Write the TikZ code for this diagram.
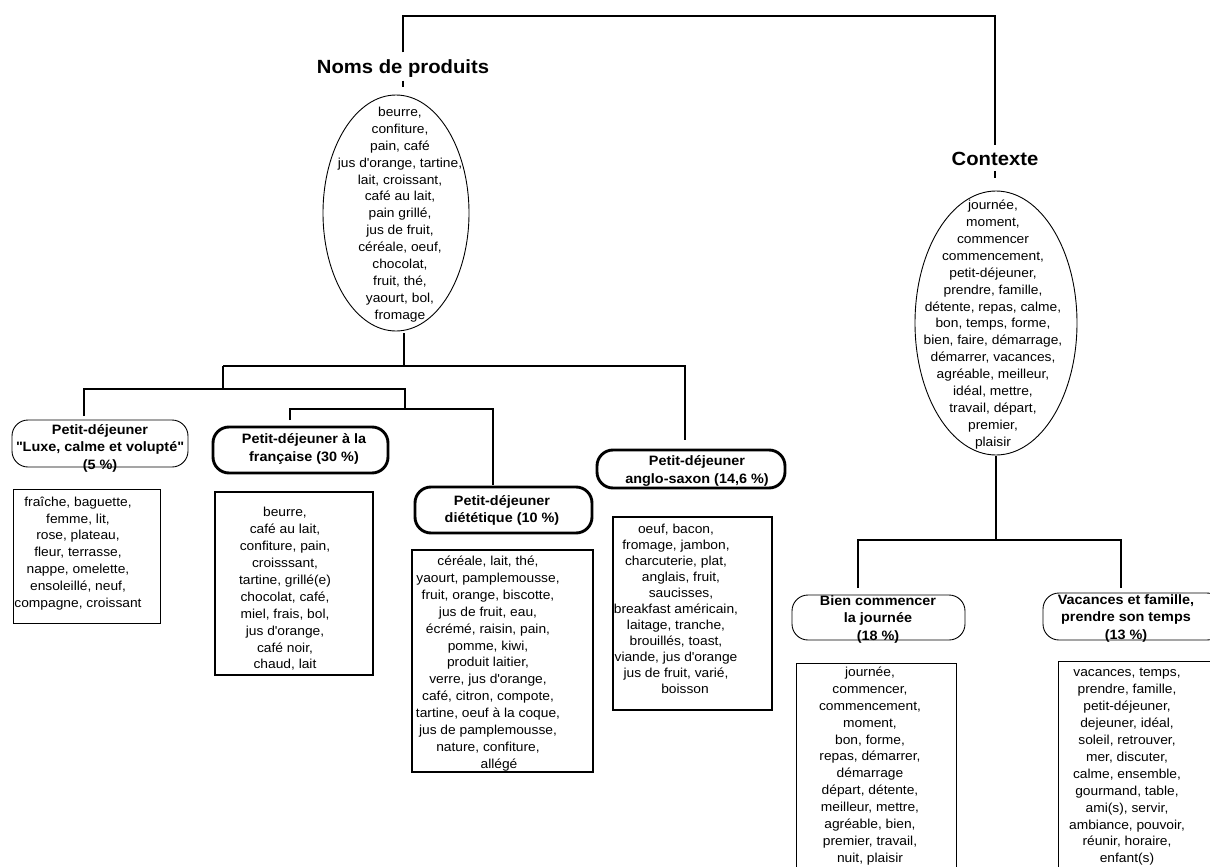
\documentclass[tikz,border=0pt]{standalone}
\usepackage{fontspec}
\setmainfont{Liberation Sans}[FakeStretch=1.06]
\usetikzlibrary{shapes.geometric}
\tikzset{
  conn/.style={line width=1.2pt},
  thinbox/.style={draw, line width=0.9pt, inner sep=0pt},
  thickbox/.style={draw, line width=2.9pt, inner sep=0pt},
  pill/.style={rounded corners=16pt},
  ell/.style={draw, ellipse, line width=0.9pt, inner sep=0pt},
  lst/.style={align=center, inner sep=0pt, font=\fontsize{13}{16.9}\selectfont},
  lstb/.style={align=center, inner sep=0pt, font=\fontsize{13}{16}\selectfont},
  ttl/.style={align=center, inner sep=0pt, font=\bfseries\fontsize{13.6}{17.5}\selectfont},
  titre/.style={inner sep=0pt, font=\bfseries\fontsize{19.1}{22}\selectfont},
}
\newcommand{\apo}{\textquotesingle}
\newcommand{\dq}{\textquotedbl}
% shift a centred line: left by #1 / right by #1
\newcommand{\tol}[2]{#2\hspace*{#1}}
\newcommand{\tor}[2]{\hspace*{#1}#2}
\begin{document}
\begin{tikzpicture}[x=1pt,y=-1pt]
\useasboundingbox (0,0) rectangle (1210,867);
\clip (0,0) rectangle (1210,867);

% ---------- Noms de produits ----------
\node[titre] (nomsT) at (403,68.5) {Noms de produits};
\node[ell, minimum width=146pt, minimum height=236pt] (nomsE) at (396,213) {};
\node[lst] (nomsL) at (400,214.5) {beurre,\\confiture,\\pain, café\\jus d\apo orange, tartine,\\lait, croissant,\\café au lait,\\pain grillé,\\jus de fruit,\\céréale, oeuf,\\chocolat,\\fruit, thé,\\yaourt, bol,\\fromage};

% ---------- Contexte ----------
\node[titre] (ctxT) at (995,159) {Contexte};
\node[ell, minimum width=162pt, minimum height=264pt] (ctxE) at (996,323) {};
\node[lst] (ctxL) at (993,324.5) {journée,\\moment,\\commencer\\commencement,\\petit-déjeuner,\\prendre, famille,\\détente, repas, calme,\\bon, temps, forme,\\bien, faire, démarrage,\\démarrer, vacances,\\agréable, meilleur,\\idéal, mettre,\\travail, départ,\\premier,\\plaisir};

% ---------- Luxe ----------
\node[thinbox, pill, minimum width=176pt, minimum height=47pt] (luxeT) at (100,443.5) {};
\node[ttl] (luxeTt) at (100,448) {Petit-déjeuner\\\dq Luxe, calme et volupté\dq\\(5~\%)};
\node[thinbox, minimum width=147pt, minimum height=134pt] (luxeL) at (86.5,556) {};
\node[lst] (luxeLt) at (78,553.5) {fraîche, baguette,\\femme, lit,\\rose, plateau,\\fleur, terrasse,\\nappe, omelette,\\ensoleillé, neuf,\\compagne, croissant};

% ---------- Française ----------
\node[thickbox, pill, minimum width=175pt, minimum height=46pt] (frT) at (300.5,450) {};
\node[ttl] (frTt) at (304,449) {Petit-déjeuner à la\\française (30~\%)};
\node[thickbox, minimum width=158pt, minimum height=183pt] (frL) at (294,583.5) {};
\node[lst] (frLt) at (285,589) {beurre,\\café au lait,\\confiture, pain,\\croisssant,\\\tol{24pt}{tartine, grillé(e)}\\chocolat, café,\\miel, frais, bol,\\jus d\apo orange,\\café noir,\\chaud, lait};

% ---------- Diététique ----------
\node[thickbox, pill, minimum width=177pt, minimum height=46pt] (diT) at (503.5,510) {};
\node[ttl] (diTt) at (502,510.5) {Petit-déjeuner\\diététique (10~\%)};
\node[thickbox, minimum width=181pt, minimum height=222pt] (diL) at (502.5,661) {};
\node[lst] (diLt) at (488,663.5) {céréale, lait, thé,\\yaourt, pamplemousse,\\fruit, orange, biscotte,\\jus de fruit, eau,\\écrémé, raisin, pain,\\pomme, kiwi,\\produit laitier,\\verre, jus d\apo orange,\\café, citron, compote,\\tartine, oeuf à la coque,\\jus de pamplemousse,\\nature, confiture,\\\tor{22pt}{allégé}};

% ---------- Anglo-saxon ----------
\node[thickbox, pill, minimum width=188pt, minimum height=38pt] (anT) at (691,469) {};
\node[ttl] (anTt) at (697,471) {Petit-déjeuner\\anglo-saxon (14,6~\%)};
\node[thickbox, minimum width=159pt, minimum height=193pt] (anL) at (692.5,613.5) {};
\node[lstb] (anLt) at (676,609) {oeuf, bacon,\\fromage, jambon,\\charcuterie, plat,\\\tor{10pt}{anglais, fruit,}\\\tor{10pt}{saucisses,}\\breakfast américain,\\laitage, tranche,\\\tol{18pt}{brouillés, toast,}\\viande, jus d\apo orange\\\tol{18pt}{jus de fruit, varié,}\\\tor{18pt}{boisson}};

% ---------- Bien commencer ----------
\node[thinbox, pill, minimum width=173pt, minimum height=45pt] (biT) at (878.5,617.5) {};
\node[ttl] (biTt) at (878,619) {Bien commencer\\la journée\\(18~\%)};
\node[thinbox, minimum width=160pt, minimum height=220pt] (biL) at (876,773) {};
\node[lst] (biLt) at (870,766) {journée,\\commencer,\\commencement,\\moment,\\\tol{34pt}{bon, forme,}\\repas, démarrer,\\démarrage\\départ, détente,\\meilleur, mettre,\\agréable, bien,\\premier, travail,\\nuit, plaisir};

% ---------- Vacances ----------
\node[thinbox, pill, minimum width=180pt, minimum height=47pt] (vaT) at (1133,616.5) {};
\node[ttl] (vaTt) at (1126,618) {Vacances et famille,\\prendre son temps\\(13~\%)};
\node[thinbox, minimum width=158pt, minimum height=220pt] (vaL) at (1137,771) {};
\node[lst] (vaLt) at (1127,767) {vacances, temps,\\prendre, famille,\\petit-déjeuner,\\dejeuner, idéal,\\soleil, retrouver,\\mer, discuter,\\\tol{26pt}{calme, ensemble,}\\gourmand, table,\\ami(s), servir,\\ambiance, pouvoir,\\réunir, horaire,\\enfant(s)};

% ---------- connectors ----------
\coordinate (topbar) at (700,16);
\draw[conn, shorten <=7pt, shorten >=7pt] (nomsT.north) |- (topbar) -| (ctxT.north);
\draw[conn, shorten <=3pt, shorten >=8pt] (nomsT.south) -- (nomsT.south |- nomsE.north);
\draw[conn, shorten <=5pt, shorten >=13pt] (ctxT.south) -- (ctxT.south |- ctxE.north);

\coordinate (n0) at (404,333);
\coordinate (b1L) at (223,366);
\coordinate (b1R) at (685,366);
\coordinate (b2L) at (84,389);
\coordinate (b2R) at (405,389);
\coordinate (b3L) at (290,409);
\coordinate (b3R) at (493,409);
\coordinate (luxeIn) at (84,416);
\coordinate (frIn) at (290,420);
\coordinate (diIn) at (493,485);
\coordinate (anIn) at (685,440);
\draw[conn] (n0) -- (n0 |- b1L);
\draw[conn] (b1L) -- (b1R) -- (anIn);
\draw[conn] (b1L) -- (b1L |- b2L);
\draw[conn] (luxeIn) -- (b2L) -- (b2R) -- (b2R |- b3L);
\draw[conn] (frIn) -- (b3L) -- (b3R) -- (diIn);

\coordinate (c0) at (996,456);
\coordinate (k1L) at (858,540);
\coordinate (k1R) at (1121,540);
\coordinate (biIn) at (858,588);
\coordinate (vaIn) at (1121,588);
\draw[conn] (c0) -- (c0 |- k1L);
\draw[conn] (biIn) -- (k1L) -- (k1R) -- (vaIn);
\end{tikzpicture}
\end{document}
